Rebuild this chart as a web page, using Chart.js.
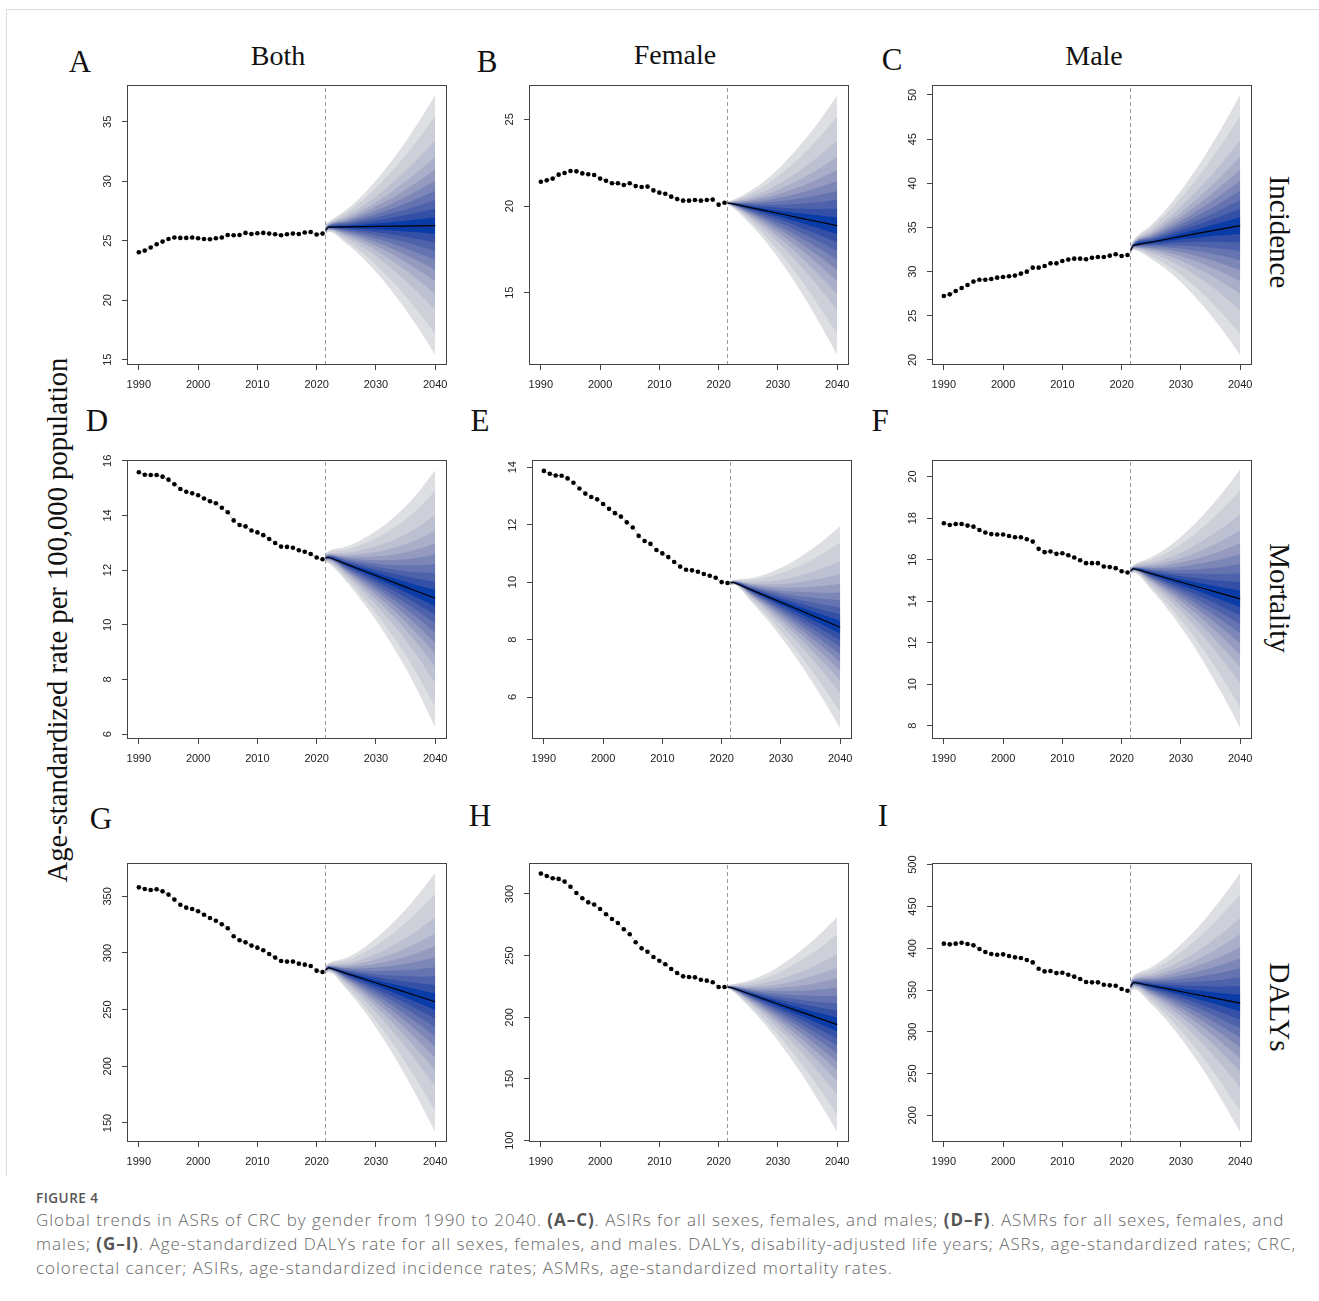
<!DOCTYPE html>
<html>
<head>
<meta charset="utf-8">
<script src="https://cdn.jsdelivr.net/npm/chart.js@4.4.1/dist/chart.umd.min.js"></script>
<style>
  html, body { margin: 0; padding: 0; background: #fff; }
  #fig { position: relative; width: 1319px; height: 1301px; overflow: hidden; }
  .frame { position: absolute; left: 6px; top: 9px; width: 1320px; height: 1166px;
           border-left: 1px solid #dcdcdc; border-top: 1px solid #dcdcdc; }
  canvas.panel { position: absolute; }
  .serif { position: absolute; font-family: 'Liberation Serif', 'Times New Roman', serif;
           color: #111; white-space: nowrap; transform: translate(-50%, -50%); line-height: 1; }
  .title { font-size: 28px; }
  .letter { font-size: 31px; }
  .row { font-size: 29px; transform: translate(-50%, -50%) rotate(90deg); }
  .ylab { font-size: 28.6px; transform: translate(-50%, -50%) rotate(-90deg); }
  .caphead { position: absolute; left: 36px; top: 1189px; font: 600 13.5px 'Open Sans', sans-serif;
             color: #555; letter-spacing: 0.5px; }
  .cap { position: absolute; left: 36px; top: 1208px; font: 300 17px 'Open Sans', sans-serif;
         color: #666; line-height: 24px; white-space: nowrap; letter-spacing: 0.96px; }
  .cap b { color: #555; font-weight: 700; }
</style>
</head>
<body>
<div id="fig">
  <div class="frame"></div>

  <div class="serif title" style="left:278px; top:56px;">Both</div>
  <div class="serif title" style="left:675px; top:55px;">Female</div>
  <div class="serif title" style="left:1094px; top:56px;">Male</div>

  <div class="serif letter" style="left:80px; top:61px;">A</div>
  <div class="serif letter" style="left:487px; top:61px;">B</div>
  <div class="serif letter" style="left:892px; top:59px;">C</div>
  <div class="serif letter" style="left:97px; top:420px;">D</div>
  <div class="serif letter" style="left:480px; top:420px;">E</div>
  <div class="serif letter" style="left:880px; top:420px;">F</div>
  <div class="serif letter" style="left:101px; top:818px;">G</div>
  <div class="serif letter" style="left:480px; top:815px;">H</div>
  <div class="serif letter" style="left:883px; top:815px;">I</div>

  <div class="serif row" style="left:1279px; top:232px;">Incidence</div>
  <div class="serif row" style="left:1279px; top:598px;">Mortality</div>
  <div class="serif row" style="left:1279px; top:1007px;">DALYs</div>

  <div class="serif ylab" style="left:58px; top:620px;">Age-standardized rate per 100,000 population</div>

  <div class="caphead">FIGURE 4</div>
  <div class="cap">Global trends in ASRs of CRC by gender from 1990 to 2040. <b>(A–C)</b>. ASIRs for all sexes, females, and males; <b>(D–F)</b>. ASMRs for all sexes, females, and<br>males; <b>(G–I)</b>. Age-standardized DALYs rate for all sexes, females, and males. DALYs, disability-adjusted life years; ASRs, age-standardized rates; CRC,<br>colorectal cancer; ASIRs, age-standardized incidence rates; ASMRs, age-standardized mortality rates.</div>
</div>

<script>
// Observed years and projection years
const years = [1990, 1991, 1992, 1993, 1994, 1995, 1996, 1997, 1998, 1999, 2000, 2001, 2002, 2003, 2004, 2005,
               2006, 2007, 2008, 2009, 2010, 2011, 2012, 2013, 2014, 2015, 2016, 2017, 2018, 2019, 2020, 2021];
const fanYears = [2021.5, 2022, 2025, 2028, 2031, 2034, 2037, 2040];
// share of the outer (95%) half-width covered by each fan band, inner to outer
const fanLevels = [0.064, 0.129, 0.196, 0.267, 0.344, 0.43, 0.529, 0.654, 0.839, 1.0];
const xTicks = [1990, 2000, 2010, 2020, 2030, 2040];

// A - incidence, both
const incBothObs = [24.03, 24.17, 24.43, 24.71, 24.93, 25.15, 25.27, 25.24, 25.24, 25.27, 25.21, 25.15, 25.13, 25.21, 25.27, 25.49,
                    25.46, 25.49, 25.66, 25.57, 25.63, 25.66, 25.60, 25.55, 25.46, 25.55, 25.60, 25.57, 25.69, 25.74, 25.52, 25.60];
const incBothMean = [25.90, 26.15, 26.17, 26.19, 26.21, 26.23, 26.25, 26.27];
const incBothUpper = [26.45, 26.60, 27.60, 28.96, 30.66, 32.61, 34.82, 37.24];
const incBothLower = [25.45, 25.75, 24.76, 23.45, 21.81, 19.92, 17.77, 15.42];
const incBothTicks = [15, 20, 25, 30, 35];

// B - incidence, female
const incFemObs = [21.40, 21.48, 21.58, 21.81, 21.90, 22.02, 22.00, 21.88, 21.83, 21.79, 21.58, 21.46, 21.31, 21.31, 21.21, 21.31,
                   21.15, 21.10, 21.12, 20.90, 20.77, 20.71, 20.54, 20.40, 20.31, 20.31, 20.35, 20.31, 20.35, 20.37, 20.08, 20.19];
const incFemMean = [20.17, 20.15, 19.94, 19.72, 19.51, 19.29, 19.08, 18.87];
const incFemUpper = [20.25, 20.30, 20.80, 21.51, 22.47, 23.60, 24.91, 26.37];
const incFemLower = [20.08, 20.00, 19.08, 17.93, 16.56, 15.00, 13.27, 11.40];
const incFemTicks = [15, 20, 25];

// C - incidence, male
const incMaleObs = [27.25, 27.43, 27.81, 28.15, 28.49, 28.87, 29.09, 29.09, 29.17, 29.32, 29.40, 29.47, 29.55, 29.77, 30.00, 30.45,
                    30.45, 30.64, 30.94, 30.94, 31.21, 31.36, 31.47, 31.47, 31.40, 31.58, 31.66, 31.66, 31.81, 31.96, 31.77, 31.89];
const incMaleMean = [32.40, 32.98, 33.35, 33.72, 34.10, 34.47, 34.84, 35.21];
const incMaleUpper = [32.90, 33.55, 35.28, 37.46, 40.10, 43.07, 46.39, 50.00];
const incMaleLower = [32.00, 32.45, 31.43, 30.02, 28.16, 25.95, 23.40, 20.57];
const incMaleTicks = [20, 25, 30, 35, 40, 45, 50];

// D - mortality, both
const mortBothObs = [15.58, 15.49, 15.48, 15.48, 15.42, 15.31, 15.14, 14.97, 14.87, 14.81, 14.74, 14.62, 14.52, 14.45, 14.28, 14.12,
                     13.82, 13.65, 13.60, 13.45, 13.38, 13.28, 13.14, 12.99, 12.86, 12.85, 12.82, 12.73, 12.67, 12.59, 12.46, 12.40];
const mortBothMean = [12.45, 12.47, 12.22, 11.97, 11.72, 11.47, 11.22, 10.97];
const mortBothUpper = [12.62, 12.70, 12.86, 13.17, 13.58, 14.12, 14.80, 15.66];
const mortBothLower = [12.28, 12.25, 11.58, 10.76, 9.85, 8.80, 7.60, 6.24];
const mortBothTicks = [6, 8, 10, 12, 14, 16];

// E - mortality, female
const mortFemObs = [13.87, 13.77, 13.71, 13.70, 13.61, 13.46, 13.26, 13.08, 12.96, 12.88, 12.72, 12.55, 12.40, 12.28, 12.08, 11.90,
                    11.61, 11.43, 11.33, 11.12, 11.00, 10.87, 10.70, 10.54, 10.43, 10.41, 10.36, 10.28, 10.22, 10.15, 10.00, 9.97];
const mortFemMean = [9.98, 9.99, 9.73, 9.47, 9.21, 8.95, 8.69, 8.43];
const mortFemUpper = [10.05, 10.08, 10.14, 10.32, 10.60, 10.97, 11.42, 11.94];
const mortFemLower = [9.90, 9.90, 9.32, 8.62, 7.82, 6.93, 5.96, 4.92];
const mortFemTicks = [6, 8, 10, 12, 14];

// F - mortality, male
const mortMaleObs = [17.75, 17.67, 17.72, 17.72, 17.64, 17.59, 17.43, 17.31, 17.23, 17.21, 17.21, 17.14, 17.08, 17.08, 16.98, 16.87,
                     16.52, 16.36, 16.39, 16.28, 16.31, 16.21, 16.10, 15.97, 15.83, 15.83, 15.83, 15.67, 15.64, 15.59, 15.44, 15.38];
const mortMaleMean = [15.45, 15.57, 15.33, 15.08, 14.84, 14.60, 14.35, 14.11];
const mortMaleUpper = [15.62, 15.75, 16.12, 16.63, 17.35, 18.22, 19.22, 20.35];
const mortMaleLower = [15.30, 15.37, 14.55, 13.53, 12.34, 10.99, 9.50, 7.89];
const mortMaleTicks = [8, 10, 12, 14, 16, 18, 20];

// G - DALYs, both
const dalyBothObs = [357.9, 356.5, 355.6, 356.2, 354.4, 351.5, 347.1, 342.6, 340.0, 338.8, 336.8, 333.8, 330.9, 328.5, 325.3, 321.8,
                     314.7, 311.2, 309.4, 306.5, 304.7, 302.4, 299.1, 295.9, 292.9, 292.4, 292.4, 290.6, 289.7, 288.5, 284.4, 283.2];
const dalyBothMean = [285, 287, 282, 277, 272, 267, 262, 257];
const dalyBothUpper = [289, 291, 295.7, 304.7, 317.3, 332.6, 350.5, 370.6];
const dalyBothLower = [282, 283, 268.2, 249.0, 226.2, 200.7, 172.5, 142.1];
const dalyBothTicks = [150, 200, 250, 300, 350];

// H - DALYs, female
const dalyFemObs = [316.5, 314.6, 312.7, 312.2, 310.0, 305.9, 300.8, 296.5, 293.2, 291.4, 287.8, 283.5, 279.7, 276.5, 271.4, 267.3,
                    260.8, 255.9, 253.2, 248.9, 245.9, 243.0, 239.2, 235.9, 233.2, 232.7, 232.4, 230.5, 229.7, 228.4, 224.6, 224.6];
const dalyFemMean = [224.5, 224.3, 219.3, 214.2, 209.2, 204.2, 199.1, 194.1];
const dalyFemUpper = [226, 226.5, 229.6, 235.3, 243.8, 254.5, 267.0, 281.4];
const dalyFemLower = [223, 222.3, 209.1, 193.2, 174.6, 154.1, 131.3, 107.0];
const dalyFemTicks = [100, 150, 200, 250, 300];

// I - DALYs, male
const dalyMaleObs = [405.5, 404.7, 405.5, 406.6, 405.1, 403.5, 399.1, 395.5, 393.1, 392.3, 392.7, 390.7, 389.1, 388.3, 385.9, 383.1,
                     375.5, 372.3, 372.7, 370.3, 370.7, 368.3, 366.0, 363.2, 359.6, 359.2, 359.2, 356.4, 355.6, 355.2, 351.2, 349.2];
const dalyMaleMean = [354, 359.2, 355.1, 351.0, 346.8, 342.7, 338.5, 334.4];
const dalyMaleUpper = [362, 367, 377.4, 392.0, 411.3, 434.2, 460.6, 490.0];
const dalyMaleLower = [347, 351, 332.9, 310.3, 282.8, 251.9, 217.4, 180.1];
const dalyMaleTicks = [200, 250, 300, 350, 400, 450, 500];

// band colours, inner (deep blue) to outer (light grey)
const fanColors = ['#0a3ca8', '#3350a6', '#4d62aa', '#6574b0', '#7c87b7', '#949bbf', '#aaaec8', '#bdc0d1', '#cdcfd9', '#dedfe2'];

// plot boxes on the page: left, top, right, bottom
const panels = [
  { box: [127, 85, 447, 365],  obs: incBothObs,  mean: incBothMean,  upper: incBothUpper,  lower: incBothLower,  ticks: incBothTicks,  yMin: 14.55, yMax: 38.1 },
  { box: [529, 85, 849, 365],  obs: incFemObs,   mean: incFemMean,   upper: incFemUpper,   lower: incFemLower,   ticks: incFemTicks,   yMin: 10.83, yMax: 26.98 },
  { box: [932, 85, 1252, 365], obs: incMaleObs,  mean: incMaleMean,  upper: incMaleUpper,  lower: incMaleLower,  ticks: incMaleTicks,  yMin: 19.43, yMax: 51.13 },
  { box: [127, 460, 447, 739], obs: mortBothObs, mean: mortBothMean, upper: mortBothUpper, lower: mortBothLower, ticks: mortBothTicks, yMin: 5.82, yMax: 16.03 },
  { box: [532, 460, 852, 739], obs: mortFemObs,  mean: mortFemMean,  upper: mortFemUpper,  lower: mortFemLower,  ticks: mortFemTicks,  yMin: 4.54, yMax: 14.25 },
  { box: [932, 460, 1252, 739], obs: mortMaleObs, mean: mortMaleMean, upper: mortMaleUpper, lower: mortMaleLower, ticks: mortMaleTicks, yMin: 7.36, yMax: 20.8 },
  { box: [127, 863, 447, 1142], obs: dalyBothObs, mean: dalyBothMean, upper: dalyBothUpper, lower: dalyBothLower, ticks: dalyBothTicks, yMin: 133.2, yMax: 379.4 },
  { box: [529, 863, 849, 1142], obs: dalyFemObs,  mean: dalyFemMean,  upper: dalyFemUpper,  lower: dalyFemLower,  ticks: dalyFemTicks,  yMin: 98.9, yMax: 325.1 },
  { box: [932, 863, 1252, 1142], obs: dalyMaleObs, mean: dalyMaleMean, upper: dalyMaleUpper, lower: dalyMaleLower, ticks: dalyMaleTicks, yMin: 168.2, yMax: 502 }
];

const PAD_L = 60, PAD_T = 10, PAD_R = 10, PAD_B = 40;
const tickFont = { family: "'Liberation Sans', Arial, sans-serif", size: 11 };

// R-style box round the plotting region
const boxPlugin = {
  id: 'rbox',
  afterDatasetsDraw(chart) {
    const { ctx, chartArea: a } = chart;
    ctx.save();
    ctx.strokeStyle = '#444';
    ctx.lineWidth = 1;
    ctx.strokeRect(Math.round(a.left) + 0.5, Math.round(a.top) + 0.5,
                   Math.round(a.right - a.left) - 1, Math.round(a.bottom - a.top) - 1);
    ctx.restore();
  }
};

const fig = document.getElementById('fig');

panels.forEach(p => {
  const [l, t, r, b] = p.box;
  const w = (r - l) + PAD_L + PAD_R;
  const h = (b - t) + PAD_T + PAD_B;
  const cv = document.createElement('canvas');
  cv.className = 'panel';
  cv.width = w; cv.height = h;
  cv.style.left = (l - PAD_L) + 'px';
  cv.style.top = (t - PAD_T) + 'px';
  cv.style.width = w + 'px';
  cv.style.height = h + 'px';
  fig.appendChild(cv);

  const datasets = [];
  // observed points with faint dotted joins
  datasets.push({
    data: p.obs.map((v, i) => ({ x: years[i], y: v })),
    borderColor: '#5a5f85', borderWidth: 1, borderDash: [1, 2],
    pointRadius: 2.3, pointBackgroundColor: '#000', pointBorderWidth: 0,
    fill: false, order: 0
  });
  // projected mean
  datasets.push({
    data: fanYears.map((x, i) => ({ x, y: p.mean[i] })),
    borderColor: '#000', borderWidth: 1.2, pointRadius: 0, fill: false, order: 1
  });
  // start of projection
  datasets.push({
    data: [{ x: 2021.5, y: p.yMin }, { x: 2021.5, y: p.yMax }],
    borderColor: '#9a9a9a', borderWidth: 1, borderDash: [4, 3], pointRadius: 0, fill: false, order: 2
  });
  // fan bands: each pair fills from its upper edge to its lower edge
  fanLevels.forEach((f, k) => {
    const up = fanYears.map((x, i) => ({ x, y: p.mean[i] + f * (p.upper[i] - p.mean[i]) }));
    const lo = fanYears.map((x, i) => ({ x, y: p.mean[i] - f * (p.mean[i] - p.lower[i]) }));
    datasets.push({ data: up, fill: '+1', backgroundColor: fanColors[k], borderColor: 'transparent',
                    borderWidth: 0, pointRadius: 0, cubicInterpolationMode: 'monotone', order: 3 + k });
    datasets.push({ data: lo, fill: false, borderColor: 'transparent',
                    borderWidth: 0, pointRadius: 0, cubicInterpolationMode: 'monotone', order: 3 + k });
  });

  const maxLen = Math.max(...p.ticks.map(v => String(v).length));

  new Chart(cv.getContext('2d'), {
    type: 'line',
    data: { datasets },
    options: {
      responsive: false,
      animation: false,
      devicePixelRatio: 1,
      events: [],
      layout: { padding: { left: 0, top: PAD_T, right: PAD_R, bottom: 0 } },
      plugins: { legend: { display: false }, tooltip: { enabled: false } },
      scales: {
        x: {
          type: 'linear', min: 1988, max: 2042,
          afterBuildTicks: s => { s.ticks = xTicks.map(v => ({ value: v })); },
          afterFit: s => { s.height = PAD_B; s.paddingLeft = 0; s.paddingRight = 0; },
          grid: { drawOnChartArea: false, drawTicks: true, tickLength: 5, color: '#444', lineWidth: 1 },
          border: { display: false },
          ticks: { font: tickFont, color: '#222', padding: 8, maxRotation: 0, autoSkip: false,
                   callback: v => String(v) }
        },
        y: {
          type: 'linear', min: p.yMin, max: p.yMax,
          afterBuildTicks: s => { s.ticks = p.ticks.map(v => ({ value: v })); },
          afterFit: s => { s.width = PAD_L; s.paddingTop = 0; s.paddingBottom = 0; },
          grid: { drawOnChartArea: false, drawTicks: true, tickLength: 5, color: '#444', lineWidth: 1 },
          border: { display: false },
          ticks: { font: tickFont, color: '#222', padding: 14 - maxLen * 3.06, minRotation: 90, maxRotation: 90,
                   crossAlign: 'center', autoSkip: false, callback: v => String(v) }
        }
      }
    },
    plugins: [boxPlugin]
  });
});
</script>
</body>
</html>
